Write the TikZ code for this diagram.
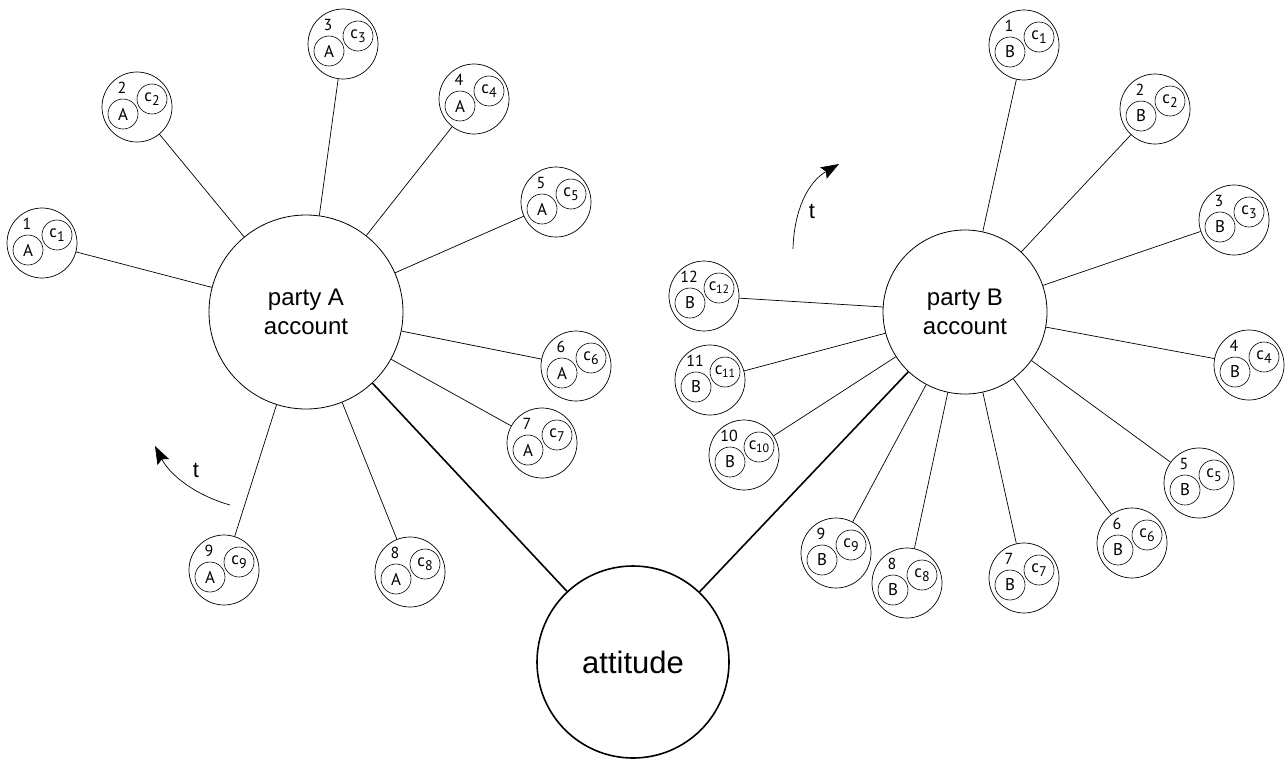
\documentclass[tikz,border=0pt]{standalone}
\usepackage{fontspec}
\setmainfont{Liberation Sans}
\newfontfamily\smallfont{PT Sans}
\usetikzlibrary{arrows.meta}
\tikzset{
  outer/.style={draw, circle, minimum size=70pt, inner sep=0pt, line width=0.7pt},
  inner/.style={draw, circle, minimum size=30pt, inner sep=0pt, line width=0.6pt, font=\smallfont\fontsize{17}{17}\selectfont},
  num/.style={inner sep=0pt, font=\smallfont\fontsize{16}{16}\selectfont},
  party/.style={draw, circle, inner sep=0pt, line width=0.8pt, align=center, font=\fontsize{24}{29}\selectfont},
  att/.style={draw, circle, inner sep=0pt, line width=1.6pt, font=\fontsize{31}{31}\selectfont},
  thin edge/.style={line width=0.7pt},
  thick edge/.style={line width=1.6pt},
  time/.style={line width=0.7pt, -{Stealth[length=18pt,width=13pt,inset=3pt]}},
}
\newcommand\acct[5]{%
  \node[outer] (#1) at (#2,#3) {};
  \node[inner] (#1l) at (#2-14,#3+7) {#4};
  \node[inner] (#1c) at (#2+15,#3-8) {c\raisebox{-3.5pt}{\fontsize{14}{14}\selectfont#5}};
  \node[num] (#1n) at (#2-15,#3-19) {#5};
}
\newcommand\acctw[5]{%
  \node[outer] (#1) at (#2,#3) {};
  \node[inner] (#1l) at (#2-14,#3+7) {#4};
  \node[inner] (#1c) at (#2+15,#3-8) {c\kern-0.5pt\raisebox{-3pt}{\fontsize{12}{12}\selectfont#5}};
  \node[num] (#1n) at (#2-15,#3-19) {#5};
}
\begin{document}
\begin{tikzpicture}[x=1pt,y=-1pt]
\useasboundingbox (0,0) rectangle (1287,758);
\node[party, minimum size=194pt] (PA) at (306,312) {party A\\account};
\node[party, minimum size=164pt] (PB) at (965,312) {party B\\account};
\node[att, minimum size=192pt] (AT) at (633,662) {attitude};

\acct{A1}{42}{243}{A}{1}
\acct{A2}{137}{107}{A}{2}
\acct{A3}{343}{44}{A}{3}
\acct{A4}{474}{99}{A}{4}
\acct{A5}{556}{202}{A}{5}
\acct{A6}{576}{366}{A}{6}
\acct{A7}{542}{443}{A}{7}
\acct{A8}{410}{572}{A}{8}
\acct{A9}{224}{570}{A}{9}

\acct{B1}{1024}{45}{B}{1}
\acct{B2}{1155}{109}{B}{2}
\acct{B3}{1234}{220}{B}{3}
\acct{B4}{1249}{365}{B}{4}
\acct{B5}{1199}{483}{B}{5}
\acct{B6}{1132}{543}{B}{6}
\acct{B7}{1024}{578}{B}{7}
\acct{B8}{907}{583}{B}{8}
\acct{B9}{836}{553}{B}{9}
\acctw{B10}{744}{455}{B}{10}
\acctw{B11}{710}{380}{B}{11}
\acctw{B12}{704}{296}{B}{12}

\foreach \i in {1,...,9} \draw[thin edge] (PA) -- (A\i);
\foreach \i in {1,...,12} \draw[thin edge] (PB) -- (B\i);
\draw[thick edge] (PA) -- (AT);
\draw[thick edge] (PB) -- (AT);

\coordinate (ta0) at (230,505);
\coordinate (ta1) at (155,446);
\draw[time] (ta0) .. controls (195,495) and (170,475) .. (ta1);
\node[num, font=\fontsize{22}{22}\selectfont] (tal) at (196,470) {t};
\coordinate (tb0) at (793,249);
\coordinate (tb1) at (839,164);
\draw[time] (tb0) .. controls (794,210) and (808,182) .. (tb1);
\node[num, font=\fontsize{22}{22}\selectfont] (tbl) at (812,211) {t};
\end{tikzpicture}
\end{document}
